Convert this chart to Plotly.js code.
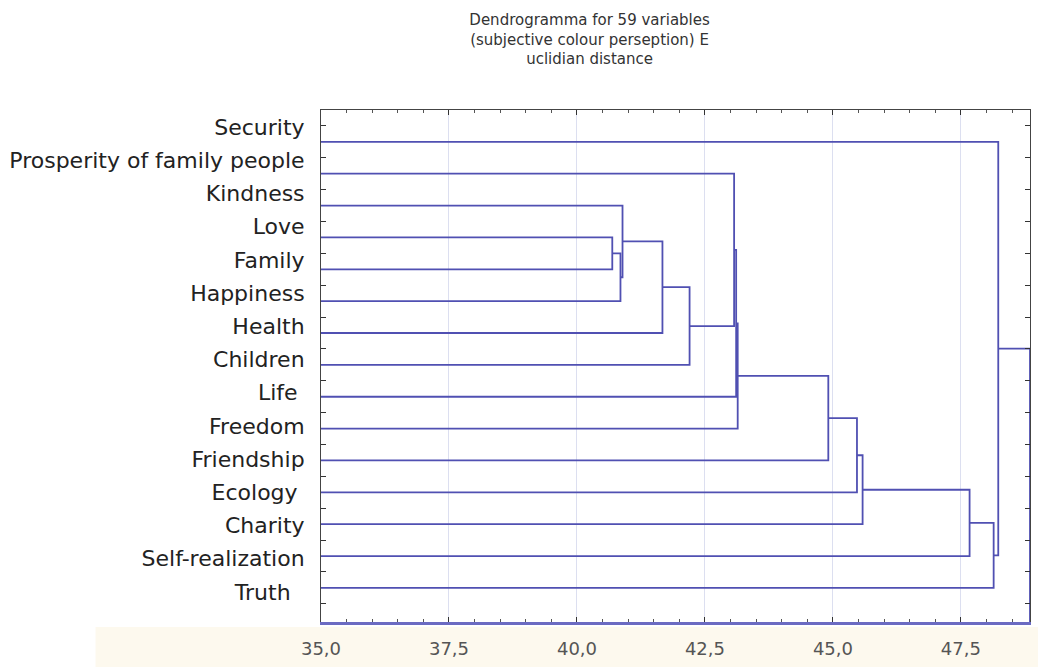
<!DOCTYPE html>
<html>
<head>
<meta charset="utf-8">
<script src="https://cdn.plot.ly/plotly-3.0.1.min.js"></script>
<style>html,body{margin:0;padding:0;background:#fff;}#chart{width:1038px;height:669px;}</style>
</head>
<body>
<div id="chart"></div>
<script>
// ---- data ----
const leafLabels = ["Security", "Prosperity of family people", "Kindness", "Love", "Family", "Happiness",
  "Health", "Children", "Life\u00a0", "Freedom", "Friendship", "Ecology\u00a0", "Charity",
  "Self-realization", "Truth\u00a0\u00a0"];
// linkage: ids 0..14 are leaves (top to bottom), id 15+k is merge k
const mergeA = [3, 15, 2, 17, 18, 1, 20, 21, 22, 23, 24, 25, 26, 0];
const mergeB = [4, 5, 16, 6, 7, 19, 8, 9, 10, 11, 12, 13, 14, 27];
const mergeHeight = [40.69, 40.85, 40.89, 41.67, 42.20, 43.07, 43.11, 43.14, 44.91, 45.47, 45.58, 47.67, 48.14, 48.23];
const xTickStart = 35.0;
const xTickStep = 2.5;

// ---- layout settings ----
const xRange = [35.0, 48.85];
const yRange = [16.07, 0.0];        // leaf k drawn at y = k+1
const labelRange = [14.903, -0.512]; // label row positions

// ---- build dendrogram segments ----
const nLeaf = leafLabels.length;
const nodeY = [], nodeH = [];
for (let i = 0; i < nLeaf; i++) { nodeY.push(i + 1); nodeH.push(0); }
const xs = [], ys = [];
for (let k = 0; k < mergeHeight.length; k++) {
  const a = mergeA[k], b = mergeB[k], h = mergeHeight[k];
  xs.push(nodeH[a], h, h, nodeH[b], null);
  ys.push(nodeY[a], nodeY[a], nodeY[b], nodeY[b], null);
  nodeY.push((nodeY[a] + nodeY[b]) / 2);
  nodeH.push(h);
}
const root = nodeY.length - 1;
xs.push(nodeH[root], xRange[1], xRange[1]);
ys.push(nodeY[root], nodeY[root], yRange[0]);

const lineColor = '#5050b2';
const traces = [
  {x: xs, y: ys, type: 'scatter', mode: 'lines', line: {color: lineColor, width: 1.8},
   hoverinfo: 'skip', showlegend: false, xaxis: 'x', yaxis: 'y'},
  {x: leafLabels.map(() => xRange[0]), y: leafLabels, type: 'scatter', mode: 'markers',
   marker: {opacity: 0}, hoverinfo: 'skip', showlegend: false, xaxis: 'x2', yaxis: 'y2'}
];

const halfTicks = [];
for (let i = 0; i <= nLeaf; i++) halfTicks.push(i + 0.5);

const fontMain = '"DejaVu Sans", Verdana, sans-serif';
const layout = {
  width: 1038, height: 669,
  margin: {l: 321, r: 8, t: 110, b: 47},
  paper_bgcolor: '#ffffff', plot_bgcolor: '#ffffff',
  separators: ',.',
  showlegend: false,
  title: {
    text: 'Dendrogramma for 59 variables<br>(subjective colour perseption) E<br>uclidian distance',
    font: {family: fontMain, size: 15, color: '#333333'},
    x: 0.568, xref: 'container', xanchor: 'center',
    y: 0.962, yref: 'container', yanchor: 'top'
  },
  xaxis: {
    range: xRange, tick0: xTickStart, dtick: xTickStep, tickformat: '.1f',
    showgrid: true, gridcolor: '#dcdff0', gridwidth: 1, zeroline: false,
    showline: true, linecolor: '#6b6bc2', linewidth: 3, mirror: false,
    ticks: 'inside', ticklen: 5, tickcolor: '#333', tickwidth: 1,
    minor: {dtick: 0.5, tick0: xTickStart, ticks: 'inside', ticklen: 3, tickcolor: '#555', showgrid: false},
    ticklabelstandoff: 8,
    tickfont: {family: fontMain, size: 18, color: '#555555'}
  },
  xaxis2: {
    overlaying: 'x', side: 'top', anchor: 'y2', range: xRange, tick0: xTickStart, dtick: xTickStep,
    showgrid: false, zeroline: false, showticklabels: false,
    showline: true, linecolor: '#444', linewidth: 1,
    ticks: 'inside', ticklen: 5, tickcolor: '#333',
    minor: {dtick: 0.5, tick0: xTickStart, ticks: 'inside', ticklen: 3, tickcolor: '#555', showgrid: false}
  },
  yaxis: {
    range: yRange, showgrid: false, zeroline: false, showticklabels: false,
    showline: true, linecolor: '#444', linewidth: 1, mirror: 'ticks',
    tickmode: 'array', tickvals: halfTicks, ticks: 'inside', ticklen: 5, tickcolor: '#333'
  },
  yaxis2: {
    overlaying: 'y', side: 'left', anchor: 'x2', type: 'category', range: labelRange,
    showgrid: false, zeroline: false, showline: false,
    ticks: 'outside', ticklen: 11, tickcolor: 'rgba(0,0,0,0)',
    tickfont: {family: fontMain, size: 22, color: '#222222'}
  },
  shapes: [{
    type: 'rect', xref: 'paper', yref: 'paper', layer: 'below',
    x0: -0.318, x1: 1.012, y0: -0.088, y1: -0.01,
    fillcolor: '#fdf9ee', line: {width: 0}
  }]
};

Plotly.newPlot('chart', traces, layout, {displayModeBar: false, staticPlot: true});
</script>
</body>
</html>
